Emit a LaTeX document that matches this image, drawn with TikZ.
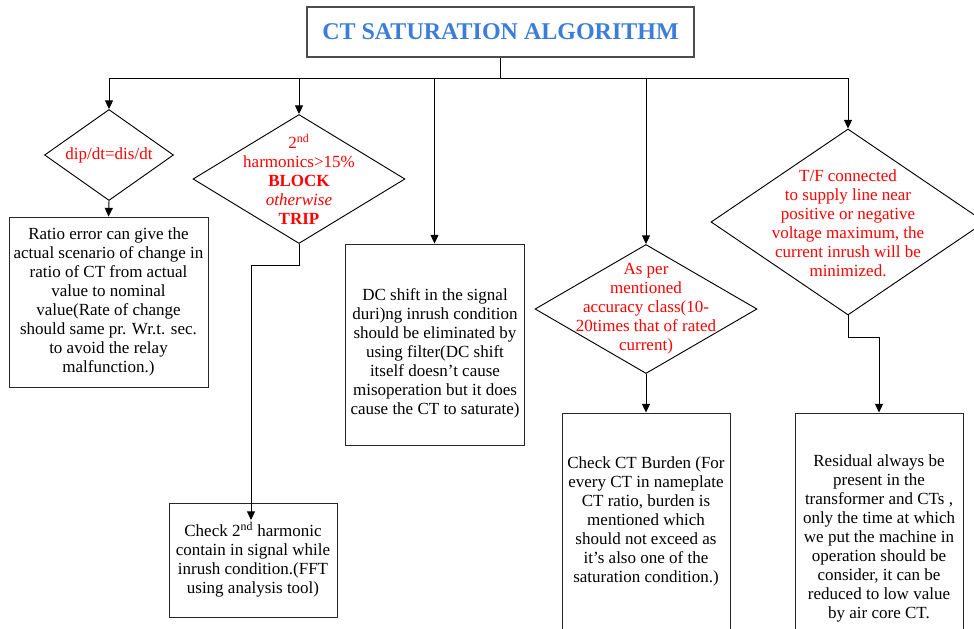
\documentclass[tikz,border=0pt]{standalone}
\usepackage{fontspec}
\setmainfont{Liberation Serif}
\usetikzlibrary{shapes.geometric,arrows.meta}
\definecolor{titleblue}{RGB}{59,125,216}
\begin{document}
\begin{tikzpicture}[x=0.75pt,y=-0.75pt,
  line width=0.7pt,
  box/.style={draw=black!85,rectangle,inner sep=0pt},
  dia/.style={draw,diamond,inner sep=0pt},
  txt/.style={align=center,inner sep=0pt,font=\rmfamily\fontsize{12.75}{14.25}\selectfont},
  redtxt/.style={txt,text=red},
  arr/.style={-{Triangle[length=6.5pt,width=6pt]}}]
\useasboundingbox (0,0) rectangle (974,628);
\clip (0,0) rectangle (974,628);

% title
\node[box, draw=black!70, line width=0.85pt, minimum width=290.25pt, minimum height=37.5pt,
      font=\rmfamily\bfseries\fontsize{18}{20}\selectfont, text=titleblue] (title) at (500.5,32)
      {CT SATURATION ALGORITHM};

% decision shapes
\node[dia, minimum width=96.75pt, minimum height=68.25pt] (d1) at (109,155) {};
\node[dia, minimum width=159pt, minimum height=96.75pt] (d2) at (299,179) {};
\node[dia, minimum width=166.5pt, minimum height=96.75pt] (d4) at (646,309) {};
\node[dia, minimum width=205.5pt, minimum height=139.5pt] (d5) at (848,222) {};

\node[redtxt] (d1t) at (d1) {dip/dt=dis/dt};
\node[redtxt] (d2t) at (d2) {2\textsuperscript{nd}\\harmonics>15\%\\\textbf{BLOCK}\\\textit{otherwise}\\\textbf{TRIP}};
\node[redtxt] (d4t) at (d4) {As per\\mentioned\\accuracy class(10-\\20times that of rated\\current)};
\node[redtxt] (d5t) at (848,223) {T/F connected\\to supply line near\\positive or negative\\voltage maximum, the\\current inrush will be\\minimized.};

% text boxes
\node[box, txt, minimum width=149.25pt, minimum height=127.5pt] (b1) at (108.5,302)
  {Ratio error can give the\\actual scenario of change in\\ratio of CT from actual\\value to nominal\\value(Rate of change\\should same pr. Wr.t. sec.\\to avoid the relay\\malfunction.)};
\node[box, txt, minimum width=126pt, minimum height=85.5pt] (b2) at (253,560)
  {Check 2\textsuperscript{nd} harmonic\\contain in signal while\\inrush condition.(FFT\\using analysis tool)};
\node[box, minimum width=134.25pt, minimum height=150.75pt] (b3) at (434.5,344.5) {};
\node[box, minimum width=126pt, minimum height=177.75pt] (b4) at (646,531.5) {};
\node[box, minimum width=126pt, minimum height=177.75pt] (b5) at (879,531.5) {};

\node[txt] (b3t) at (435,353.5) {DC shift in the signal\\duri)ng inrush condition\\should be eliminated by\\using filter(DC shift\\itself doesn’t cause\\misoperation but it does\\cause the CT to saturate)};
\node[txt] (b4t) at (646,521) {Check CT Burden (For\\every CT in nameplate\\CT ratio, burden is\\mentioned which\\should not exceed as\\it’s also one of the\\saturation condition.)};
\node[txt] (b5t) at (879,538.5) {Residual always be\\present in the\\transformer and CTs ,\\only the time at which\\we put the machine in\\operation should be\\consider, it can be\\reduced to low value\\by air core CT.};

% distribution bus
\coordinate (busL) at (109,78);
\coordinate (busR) at (848,78);
\draw (title.south) -- (title.south |- busL);
\draw (busL) -- (busR);
\draw[arr] (busL) -- (d1.north);
\draw[arr] (d2.north |- busL) -- (d2.north);
\draw[arr] (b3.north |- busL) -- (b3.north);
\draw[arr] (d4.north |- busL) -- (d4.north);
\draw[arr] (busR) -- (d5.north);

% branches below the decisions
\draw[arr] (d1.south) -- (b1.north);
\coordinate (b2in) at (251,520);
\draw[arr] (d2.south) -- ++(0,21) -| (b2in);
\draw[arr] (d4.south) -- (b4.north);
\draw[arr] (d5.south) -- ++(0,22) -| (b5.north);
\end{tikzpicture}
\end{document}
